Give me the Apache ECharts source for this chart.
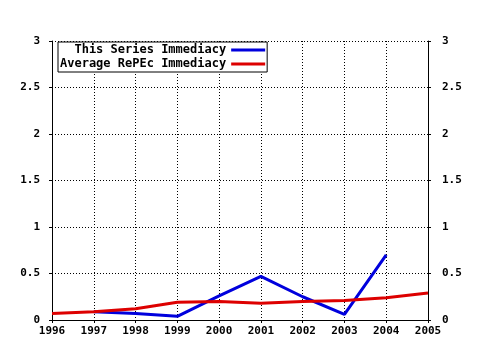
<!DOCTYPE html>
<html>
<head>
<meta charset="utf-8">
<script src="https://cdn.jsdelivr.net/npm/echarts@6/dist/echarts.min.js"></script>
<style>
html, body { margin: 0; padding: 0; background: #fff; }
#main { width: 480px; height: 350px; }
</style>
</head>
<body>
<div id="main"></div>
<script>
var years = ['1996', '1997', '1998', '1999', '2000', '2001', '2002', '2003', '2004', '2005'];
var seriesImmediacy = [null, 0.09, 0.07, 0.04, 0.26, 0.47, 0.25, 0.06, 0.70, null];
var averageImmediacy = [0.07, 0.09, 0.12, 0.19, 0.20, 0.18, 0.20, 0.21, 0.24, 0.29];

var font = 'DejaVu Sans Mono';
var labelStyle = { color: '#000', fontFamily: font, fontWeight: 'bold', fontSize: 11 };

var myChart = echarts.init(document.getElementById('main'));
var yAxisBase = {
    type: 'value',
    min: 0,
    max: 3,
    interval: 0.5,
    axisLine: { show: true, lineStyle: { color: '#000', width: 1 } },
    axisTick: { show: true, inside: false, length: 3, lineStyle: { color: '#000' } },
    axisLabel: Object.assign({ margin: 12 }, labelStyle)
};
var option = {
    animation: false,
    backgroundColor: '#fff',
    grid: { left: 52, right: 52, top: 41, bottom: 30 },
    legend: {
        left: 58,
        top: 42,
        orient: 'vertical',
        align: 'right',
        itemGap: 2,
        itemWidth: 34,
        itemHeight: 3,
        padding: [2, 2, 2, 2],
        borderColor: '#000',
        borderWidth: 1,
        borderRadius: 0,
        backgroundColor: '#fff',
        icon: 'rect',
        textStyle: Object.assign({ width: 164, align: 'right', padding: [0, 0, 0, 0] }, labelStyle, { fontSize: 12 }),
        data: ['This Series Immediacy', 'Average RePEc Immediacy']
    },
    xAxis: [{
        type: 'category',
        data: years,
        boundaryGap: false,
        axisLine: { show: true, lineStyle: { color: '#000', width: 1 } },
        axisTick: { show: true, length: 3, lineStyle: { color: '#000' } },
        axisLabel: Object.assign({ margin: 6 }, labelStyle),
        splitLine: { show: true, lineStyle: { color: '#000', type: [1, 2], width: 1 } }
    }, {
        type: 'category',
        position: 'top',
        data: years,
        boundaryGap: false,
        axisLine: { show: true, lineStyle: { color: '#000', width: 1 } },
        axisTick: { show: true, inside: true, length: 3, lineStyle: { color: '#000' } },
        axisLabel: { show: false },
        splitLine: { show: false }
    }],
    yAxis: [
        Object.assign({}, yAxisBase, {
            position: 'left',
            splitLine: { show: true, lineStyle: { color: '#000', type: [1, 2], width: 1 } }
        }),
        Object.assign({}, yAxisBase, {
            position: 'right',
            axisLabel: Object.assign({ margin: 14, align: 'left' }, labelStyle),
            splitLine: { show: false }
        })
    ],
    series: [{
        name: 'This Series Immediacy',
        type: 'line',
        data: seriesImmediacy,
        symbol: 'none',
        color: '#0000dd',
        lineStyle: { width: 3, color: '#0000dd' },
        z: 2
    }, {
        name: 'Average RePEc Immediacy',
        type: 'line',
        data: averageImmediacy,
        symbol: 'none',
        color: '#dd0000',
        lineStyle: { width: 3, color: '#dd0000' },
        z: 3
    }]
};
myChart.setOption(option);
</script>
</body>
</html>
